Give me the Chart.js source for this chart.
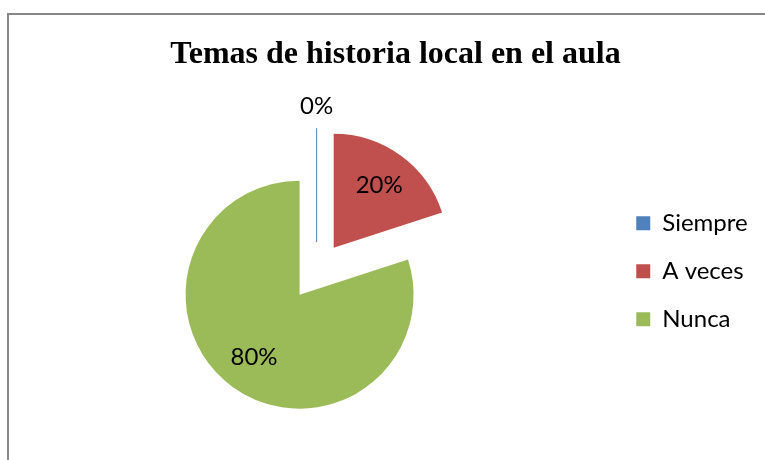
<!DOCTYPE html>
<html lang="es">
<head>
    <meta charset="UTF-8">
    <title>Temas de historia local en el aula</title>
    <script src="https://cdn.jsdelivr.net/npm/chart.js"></script>
    <style>
        html, body {
            margin: 0;
            padding: 0;
            background: #fff;
            overflow: hidden;
        }
        #frame {
            position: absolute;
            left: 7px;
            top: 13px;
            width: 772px;
            height: 460px;
            border: 2px solid #878787;
            background: #fff;
        }
        canvas {
            display: block;
        }
    </style>
</head>
<body>
    <div id="frame"><canvas id="pieChart" width="772" height="460"></canvas></div>
    <script>
        const titleText = 'Temas de historia local en el aula';
        const categories = ['Siempre', 'A veces', 'Nunca'];
        const values = [0, 20, 80];
        const percentLabels = ['0%', '20%', '80%'];
        const sliceColors = ['#4F81BD', '#C0504D', '#9BBB59'];

        const EXPLODE = 29;   // how far every slice is pulled out, px

        // pull each slice out along its middle angle (like Excel's exploded pie)
        const explodePlugin = {
            id: 'explode',
            beforeDatasetDraw(chart, args) {
                const ctx = chart.ctx;
                args.meta.data.forEach(arc => {
                    const p = arc.getProps(['x', 'y', 'startAngle', 'endAngle', 'outerRadius'], true);
                    const mid = (p.startAngle + p.endAngle) / 2;
                    ctx.save();
                    ctx.translate(Math.cos(mid) * EXPLODE, Math.sin(mid) * EXPLODE);
                    if (p.endAngle - p.startAngle > 0) {
                        arc.draw(ctx);
                    } else {
                        // a 0% slice shows up as a thin line
                        ctx.strokeStyle = arc.options.backgroundColor;
                        ctx.lineWidth = 1;
                        ctx.beginPath();
                        ctx.moveTo(p.x, p.y);
                        ctx.lineTo(p.x + Math.cos(mid) * p.outerRadius, p.y + Math.sin(mid) * p.outerRadius);
                        ctx.stroke();
                    }
                    ctx.restore();
                });
                return false;
            }
        };

        const percentPlugin = {
            id: 'percents',
            afterDatasetsDraw(chart) {
                const ctx = chart.ctx;
                const meta = chart.getDatasetMeta(0);
                ctx.save();
                ctx.font = '24px Lato';
                ctx.fillStyle = '#000';
                ctx.textAlign = 'center';
                ctx.textBaseline = 'middle';
                meta.data.forEach((arc, i) => {
                    const p = arc.getProps(['x', 'y', 'startAngle', 'endAngle', 'outerRadius'], true);
                    const mid = (p.startAngle + p.endAngle) / 2;
                    const dist = values[i] === 0 ? EXPLODE + p.outerRadius + 22 : EXPLODE + p.outerRadius * 0.68;
                    ctx.fillText(percentLabels[i], p.x + Math.cos(mid) * dist, p.y + Math.sin(mid) * dist);
                });
                ctx.restore();
            }
        };

        // default pie legend items, with a little trailing room so the legend box is wider
        const baseLabels = Chart.overrides.doughnut.plugins.legend.labels.generateLabels;

        const ctx = document.getElementById('pieChart').getContext('2d');
        new Chart(ctx, {
            type: 'pie',
            data: {
                labels: categories,
                datasets: [{
                    data: values,
                    backgroundColor: sliceColors,
                    borderWidth: 0,
                    radius: 114
                }]
            },
            options: {
                responsive: false,
                animation: false,
                devicePixelRatio: 1,
                layout: {
                    padding: { left: 12, right: 11, top: 0, bottom: 16 }
                },
                plugins: {
                    title: {
                        display: true,
                        text: titleText,
                        color: '#000',
                        font: { family: 'Liberation Serif', size: 32, weight: 'bold', lineHeight: 1.2 },
                        padding: { top: 21, bottom: 9 }
                    },
                    legend: {
                        position: 'right',
                        fullSize: false,
                        labels: {
                            color: '#000',
                            font: { family: 'Lato', size: 24 },
                            boxWidth: 14,
                            boxHeight: 14,
                            padding: 24,
                            generateLabels(chart) {
                                return baseLabels(chart).map(item => {
                                    item.text = item.text + '  ';
                                    return item;
                                });
                            }
                        }
                    },
                    tooltip: { enabled: false }
                }
            },
            plugins: [explodePlugin, percentPlugin]
        });
    </script>
</body>
</html>
